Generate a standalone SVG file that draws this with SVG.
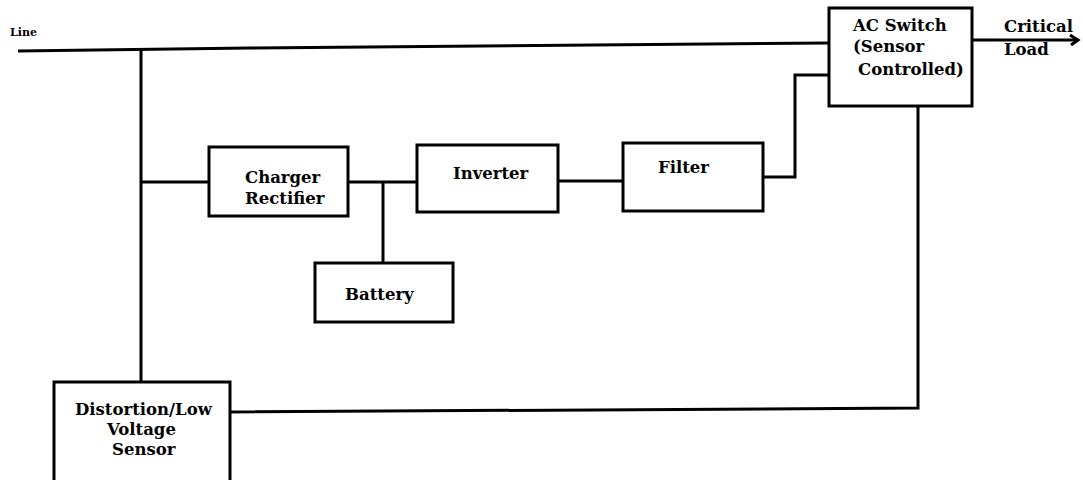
<svg xmlns="http://www.w3.org/2000/svg" width="1083" height="480" viewBox="0 0 1083 480">
<style>
.box{fill:#fff;stroke:#000;stroke-width:3}
.w{fill:none;stroke:#000;stroke-width:3}
text{font-family:"DejaVu Serif","Liberation Serif",serif;font-size:16.5px;font-weight:bold;fill:#000}
</style>
<rect width="1083" height="480" fill="#fff"/>
<g id="connectors">
<path class="w" d="M18 51 L250 48 L829 43"/>
<path class="w" d="M141 49 V384"/>
<path class="w" d="M141 182 H209"/>
<path class="w" d="M348 182 H417"/>
<path class="w" d="M383 182 V263"/>
<path class="w" d="M558 181 H623"/>
<path class="w" d="M763 177 H795 V75 H829"/>
<path class="w" d="M972 40 H1077"/>
<path class="w" d="M1070 35 L1078 40 L1071 45" stroke-width="2"/>
<path class="w" d="M230 412 L918 408 V106"/>
</g>
<text x="10" y="36" style="font-size:11px">Line</text>
<g id="ac-switch">
<rect class="box" x="829" y="8" width="143" height="98"/>
<text x="853" y="31">AC Switch</text>
<text x="853" y="52">(Sensor</text>
<text x="858" y="75">Controlled)</text>
</g>
<g id="critical-load">
<text x="1004" y="32">Critical</text>
<text x="1004" y="55">Load</text>
</g>
<g id="charger">
<rect class="box" x="209" y="147" width="139" height="69"/>
<text x="245" y="183">Charger</text>
<text x="245" y="204">Rectifier</text>
</g>
<g id="inverter">
<rect class="box" x="417" y="145" width="141" height="67"/>
<text x="453" y="179">Inverter</text>
</g>
<g id="filter">
<rect class="box" x="623" y="143" width="140" height="68"/>
<text x="658" y="173">Filter</text>
</g>
<g id="battery">
<rect class="box" x="315" y="263" width="138" height="59"/>
<text x="345" y="300">Battery</text>
</g>
<g id="sensor">
<rect class="box" x="54" y="382" width="176" height="102"/>
<text x="75" y="415">Distortion/Low</text>
<text x="107" y="435">Voltage</text>
<text x="112" y="455">Sensor</text>
</g>
</svg>
